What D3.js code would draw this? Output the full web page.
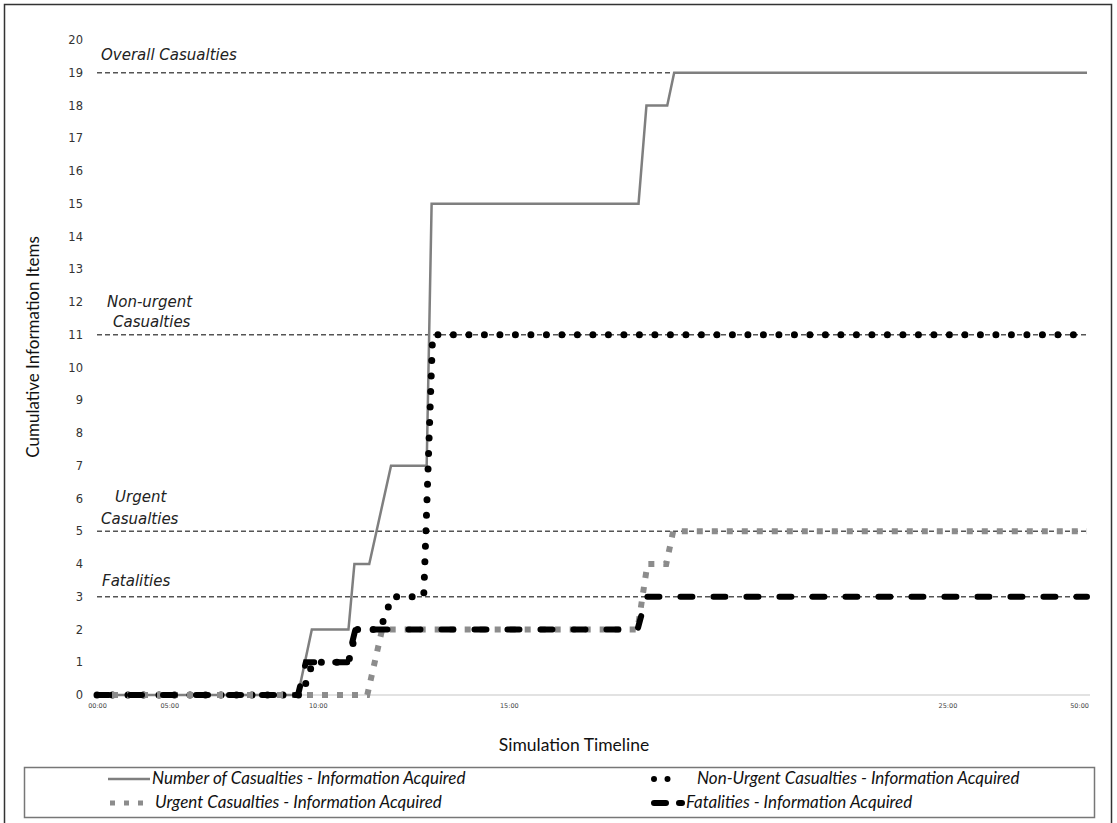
<!DOCTYPE html>
<html>
<head>
<meta charset="utf-8">
<script src="https://cdn.jsdelivr.net/npm/d3@7"></script>
<style>
  html, body { margin: 0; padding: 0; background: #fff; }
  svg { display: block; }
</style>
</head>
<body>
<svg id="chart" width="1117" height="823"></svg>
<script>
// Timeline position (0 = start, 100 = end of the category axis)
const tickPositions = [0, 7.3, 22.3, 41.6, 85.9, 99.2];
const tickLabels = ["00:00", "05:00", "10:00", "15:00", "25:00", "50:00"];
const yTicks = d3.range(0, 21);

// Series: [timeline position, cumulative items]
const casualtiesSeries = [[0,0],[20.3,0],[21.7,2],[25.4,2],[26.0,4],[27.5,4],[29.7,7],[33.3,7],[33.8,15],[54.7,15],[55.5,18],[57.6,18],[58.3,19],[100,19]];
const nonUrgentSeries = [[0,0],[20.7,0],[21.8,1],[25.4,1],[26.2,2],[28.6,2],[29.8,3],[33.0,3],[33.9,11],[100,11]];
const urgentSeries = [[0,0],[27.3,0],[28.8,2],[54.6,2],[55.6,4],[57.5,4],[58.2,5],[100,5]];
const fatalitiesSeries = [[0,0],[20.3,0],[21.1,1],[25.3,1],[26.1,2],[54.6,2],[55.5,3],[100,3]];

// Reference totals
const refValues = [19, 11, 5, 3];
const refLabels = [["Overall Casualties"], ["Non-urgent", "Casualties"], ["Urgent", "Casualties"], ["Fatalities"]];

const legendNames = [
  "Number of Casualties - Information Acquired",
  "Non-Urgent Casualties - Information Acquired",
  "Urgent Casualties - Information Acquired",
  "Fatalities - Information Acquired"
];

const svg = d3.select("#chart");
const x = d3.scaleLinear().domain([0, 100]).range([97, 1087]);
const y = d3.scaleLinear().domain([0, 20]).range([695, 40]);

// outer frame
svg.append("rect").attr("x", 4.5).attr("y", 4.5).attr("width", 1107).attr("height", 840)
  .attr("fill", "#fff").attr("stroke", "#333").attr("stroke-width", 1.5);

// baseline
svg.append("line").attr("x1", x(0)).attr("x2", x(100) + 3).attr("y1", y(0)).attr("y2", y(0))
  .attr("stroke", "#d9d9d9").attr("stroke-width", 1.5);

// y ticks
const yAxis = d3.axisLeft(y).tickValues(yTicks).tickSize(0).tickPadding(0).tickFormat(d3.format("d"));
const gy = svg.append("g").attr("transform", "translate(83,0)").call(yAxis);
gy.select(".domain").remove();
gy.selectAll("text").attr("font-family", "DejaVu Sans").attr("font-size", 11.5).attr("fill", "#333");

// x ticks
const xAxis = d3.axisBottom(x).tickValues(tickPositions).tickSize(0).tickPadding(0)
  .tickFormat((d, i) => tickLabels[i]);
const gx = svg.append("g").attr("transform", "translate(0,703)").call(xAxis);
gx.select(".domain").remove();
gx.selectAll("text").attr("font-family", "DejaVu Sans").attr("font-size", 6.5).attr("fill", "#444");

// axis titles
svg.append("text").attr("transform", "translate(39,347) rotate(-90)")
  .attr("text-anchor", "middle").attr("font-family", "Lato").attr("font-size", 17).attr("fill", "#111")
  .text("Cumulative Information Items");
svg.append("text").attr("x", 574).attr("y", 751).attr("text-anchor", "middle")
  .attr("font-family", "Lato").attr("font-size", 17.5).attr("fill", "#111").text("Simulation Timeline");

// reference dashed lines
svg.selectAll(".ref").data(refValues).join("line").attr("class", "ref")
  .attr("x1", x(0)).attr("x2", x(100)).attr("y1", d => y(d)).attr("y2", d => y(d))
  .attr("stroke", "#555").attr("stroke-width", 1.5).attr("stroke-dasharray", "5 3");

// reference labels
const labelPos = [
  [[101, 60]],
  [[107, 307], [113, 327]],
  [[115, 502], [101, 524]],
  [[102, 586]]
];
refLabels.forEach((lines, i) => {
  lines.forEach((t, j) => {
    svg.append("text").attr("x", labelPos[i][j][0]).attr("y", labelPos[i][j][1])
      .attr("font-family", "DejaVu Sans").attr("font-style", "italic").attr("font-size", 15)
      .attr("fill", "#222").text(t);
  });
});

const line = d3.line().x(d => x(d[0])).y(d => y(d[1]));

// series
svg.append("path").datum(casualtiesSeries).attr("d", line).attr("fill", "none")
  .attr("stroke", "#7f7f7f").attr("stroke-width", 2.5).attr("stroke-linejoin", "miter");
svg.append("path").datum(nonUrgentSeries).attr("d", line).attr("fill", "none")
  .attr("stroke", "#000").attr("stroke-width", 7).attr("stroke-linecap", "round")
  .attr("stroke-dasharray", "0 15.5");
svg.append("path").datum(urgentSeries).attr("d", line).attr("fill", "none")
  .attr("stroke", "#8c8c8c").attr("stroke-width", 6).attr("stroke-dasharray", "6 9");
svg.append("path").datum(fatalitiesSeries).attr("d", line).attr("fill", "none")
  .attr("stroke", "#000").attr("stroke-width", 6).attr("stroke-linecap", "round")
  .attr("stroke-dasharray", "12 21");

// legend
svg.append("rect").attr("x", 24.5).attr("y", 767.5).attr("width", 1070).attr("height", 50)
  .attr("fill", "#fff").attr("stroke", "#777").attr("stroke-width", 1.5);

const lg = svg.append("g");
const rows = [779, 803];
// solid
lg.append("line").attr("x1", 108).attr("x2", 150).attr("y1", rows[0]).attr("y2", rows[0])
  .attr("stroke", "#7f7f7f").attr("stroke-width", 2.5);
// dotted
lg.append("line").attr("x1", 654).attr("x2", 681).attr("y1", rows[0]).attr("y2", rows[0])
  .attr("stroke", "#000").attr("stroke-width", 6).attr("stroke-linecap", "round").attr("stroke-dasharray", "0 13.5");
// urgent squares
lg.append("line").attr("x1", 110).attr("x2", 143).attr("y1", rows[1]).attr("y2", rows[1])
  .attr("stroke", "#8c8c8c").attr("stroke-width", 5).attr("stroke-dasharray", "5 9");
// fatalities
lg.append("line").attr("x1", 654).attr("x2", 682).attr("y1", rows[1]).attr("y2", rows[1])
  .attr("stroke", "#000").attr("stroke-width", 6).attr("stroke-linecap", "round").attr("stroke-dasharray", "12 13");

const legendPos = [[152, rows[0]], [697, rows[0]], [155, rows[1]], [686, rows[1]]];
legendNames.forEach((t, i) => {
  lg.append("text").attr("x", legendPos[i][0]).attr("y", legendPos[i][1] + 5)
    .attr("font-family", "Lato").attr("font-style", "italic").attr("font-size", 17)
    .attr("textLength", null)
    .attr("fill", "#111").text(t);
});
</script>
</body>
</html>
